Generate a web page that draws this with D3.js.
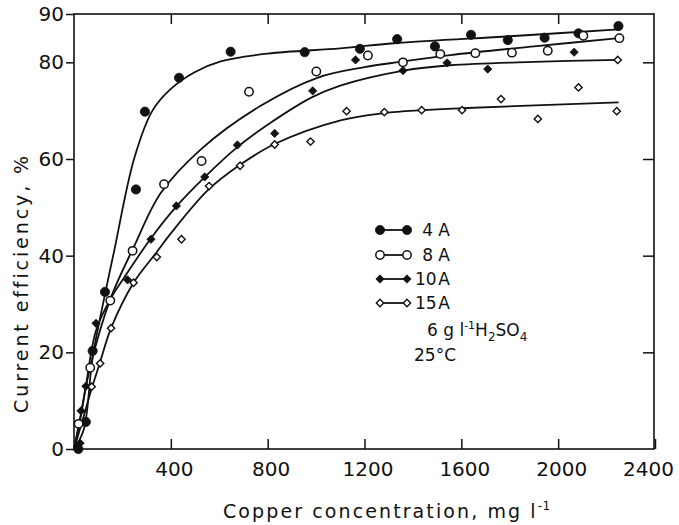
<!DOCTYPE html>
<html><head><meta charset="utf-8">
<script src="https://cdn.jsdelivr.net/npm/d3@7"></script>
<style>
body{margin:0;background:#fff}
svg{display:block}
text{font-family:"DejaVu Sans",sans-serif;fill:#111}
</style>
</head><body>
<svg id="c" width="679" height="525"></svg>
<script>
// ---- data ----
const xTickValues = [400, 800, 1200, 1600, 2000, 2400];
const yTickValues = [0, 20, 40, 60, 80, 90];
const seriesNames = ["4 A", "8 A", "10 A", "15 A"];

// measured points [copper concentration mg/l, current efficiency %]
const points4A = [[18,0],[49,5.6],[77,20.3],[128,32.5],[256,53.7],[293,69.8],[434,76.8],[647,82.2],[953,82.1],[1181,82.8],[1335,84.8],[1491,83.3],[1640,85.7],[1792,84.6],[1944,85.1],[2084,86.0],[2249,87.5]];
const points8A = [[19,5.2],[67,16.8],[150,30.7],[242,41.0],[372,54.8],[527,59.6],[723,73.9],[1001,78.1],[1214,81.4],[1359,80.0],[1513,81.7],[1658,81.9],[1809,82.0],[1957,82.4],[2104,85.5],[2253,85.0]];
const points10A = [[25,1.2],[29,7.9],[49,13.0],[91,26.0],[221,35.0],[318,43.4],[423,50.3],[540,56.3],[675,62.9],[829,65.3],[986,74.1],[1163,80.5],[1359,78.3],[1541,79.9],[1709,78.6],[2066,82.1]];
const points15A = [[73,12.9],[108,17.7],[153,25.0],[246,34.4],[342,39.7],[444,43.4],[558,54.4],[686,58.6],[829,63.0],[977,63.6],[1126,69.9],[1282,69.7],[1436,70.1],[1603,70.1],[1764,72.4],[1916,68.3],[2084,74.8],[2242,69.9],[2246,80.5]];

// fitted curves as drawn in the figure
const curve4A = [[0,0],[40,4],[77,19],[128,32],[166,41],[248,60],[324,70],[400,74.5],[500,78],[606,80.2],[800,81.8],[1100,82.9],[1335,84.0],[1800,85.4],[2250,86.8]];
const curve8A = [[0,0],[20,5],[67,17],[150,31],[249,42],[359,53],[524,62],[771,71],[1005,76.8],[1200,79],[1348,80.1],[1555,81.5],[1900,83.3],[2250,85.0]];
const curve10A = [[0,0],[29,7],[49,13],[91,24.5],[150,31],[221,36.5],[315,43.4],[425,50.3],[541,56.3],[671,62.3],[812,67.5],[984,72.8],[1100,75.2],[1362,78.3],[1555,79.4],[1900,80.1],[2250,80.5]];
const curve15A = [[0,0],[30,5],[73,12.5],[108,18],[153,25],[246,34.4],[338,40.5],[400,44.6],[554,53.6],[686,58.8],[833,63.2],[1101,68.0],[1282,69.5],[1436,70.1],[1596,70.5],[2250,71.7]];

// ---- chart ----
const svg = d3.select("#c");
const x = d3.scaleLinear().domain([0, 2400]).range([74, 655]);
const y = d3.scaleLinear().domain([0, 90]).range([449, 14]);

const seriesDefs = [
  {name: seriesNames[0], pts: points4A, curve: curve4A, shape: "circle", fill: true},
  {name: seriesNames[1], pts: points8A, curve: curve8A, shape: "circle", fill: false},
  {name: seriesNames[2], pts: points10A, curve: curve10A, shape: "diamond", fill: true},
  {name: seriesNames[3], pts: points15A, curve: curve15A, shape: "diamond", fill: false}
];

// frame
svg.append("rect").attr("x", x(0)).attr("y", y(90))
  .attr("width", x(2400) - x(0) - 1).attr("height", y(0) - y(90))
  .attr("fill", "none").attr("stroke", "#111").attr("stroke-width", 1.6);

function styleAxis(g){
  g.select(".domain").remove();
  g.selectAll("line").attr("stroke", "#111").attr("stroke-width", 1.5);
  g.selectAll("text").attr("font-size", 20).attr("fill", "#111")
    .attr("font-family", '"DejaVu Sans", sans-serif');
}

svg.append("g").attr("transform", `translate(0,${y(0)})`)
  .call(d3.axisBottom(x).tickValues(xTickValues).tickSizeInner(-10).tickSizeOuter(0).tickPadding(13).tickFormat(d3.format("d")))
  .call(styleAxis)
  .call(g => g.selectAll(".tick text").attr("dx", d => d === 2400 ? -7 : 3));

svg.append("g").attr("transform", `translate(0,${y(90)})`)
  .call(d3.axisTop(x).tickValues(xTickValues.slice(0, -1)).tickSizeInner(-10).tickSizeOuter(0).tickFormat(""))
  .call(styleAxis);

svg.append("g").attr("transform", `translate(${x(0)},0)`)
  .call(d3.axisLeft(y).tickValues(yTickValues).tickSizeInner(8).tickSizeOuter(0).tickPadding(2).tickFormat(d3.format("d")))
  .call(styleAxis);

svg.append("g").attr("transform", `translate(${x(2400) - 1},0)`)
  .call(d3.axisRight(y).tickValues(yTickValues.slice(1, -1)).tickSizeInner(-11).tickSizeOuter(0).tickFormat(""))
  .call(styleAxis);

// curves
const line = d3.line().x(d => x(d[0])).y(d => y(d[1])).curve(d3.curveCatmullRom.alpha(0.5));
seriesDefs.forEach(s => {
  svg.append("path").datum(s.curve).attr("d", line)
    .attr("fill", "none").attr("stroke", "#111").attr("stroke-width", 1.8);
});

// markers
const diamond = d3.symbol().type(d3.symbolDiamond2);
function drawMarker(g, cx, cy, s){
  if (s.shape === "circle") {
    g.append("circle").attr("cx", cx).attr("cy", cy)
      .attr("r", s.fill ? 4.6 : 4.2)
      .attr("fill", s.fill ? "#111" : "#fff")
      .attr("stroke", "#111").attr("stroke-width", s.fill ? 0.8 : 1.5);
  } else {
    const size = s.fill ? 44 : 34;
    g.append("path").attr("d", diamond.size(size)())
      .attr("transform", `translate(${cx},${cy})`)
      .attr("fill", s.fill ? "#111" : "#fff")
      .attr("stroke", "#111").attr("stroke-width", s.fill ? 0.8 : 1.4);
  }
}
const mg = svg.append("g");
seriesDefs.forEach(s => {
  s.pts.forEach(p => drawMarker(mg, x(p[0]), y(p[1]), s));
});

// legend
const legendRowsY = [230, 255, 279, 303];
const lg = svg.append("g");
seriesDefs.forEach((s, i) => {
  const ly = legendRowsY[i];
  lg.append("line").attr("x1", 380).attr("x2", 407).attr("y1", ly).attr("y2", ly)
    .attr("stroke", "#111").attr("stroke-width", 1.8);
  drawMarker(lg, 380, ly, s);
  drawMarker(lg, 407, ly, s);
  lg.append("text").attr("x", 450).attr("y", ly + 6).attr("text-anchor", "end")
    .attr("font-size", 17).text(s.name.length > 3 ? s.name.replace(" ", "\u200A") : s.name);
});
const t1 = lg.append("text").attr("x", 427).attr("y", 336).attr("font-size", 17);
t1.append("tspan").text("6 g l");
t1.append("tspan").attr("dy", -7).attr("font-size", 11).text("-1");
t1.append("tspan").attr("dy", 7).text("H");
t1.append("tspan").attr("dy", 5).attr("font-size", 12).text("2");
t1.append("tspan").attr("dy", -5).text("SO");
t1.append("tspan").attr("dy", 5).attr("font-size", 12).text("4");
lg.append("text").attr("x", 414).attr("y", 361).attr("font-size", 17).text("25\u00B0C");

// axis titles
const xt = svg.append("text").attr("x", 223).attr("y", 518).attr("font-size", 19)
  .attr("letter-spacing", 2.1);
xt.append("tspan").text("Copper concentration, mg l");
xt.append("tspan").attr("dy", -8).attr("font-size", 12).attr("letter-spacing", 0.5).text("-1");

svg.append("text").attr("transform", "translate(28,283) rotate(-90)")
  .attr("text-anchor", "middle").attr("font-size", 19).attr("letter-spacing", 2.9)
  .text("Current efficiency, %");
</script>
</body></html>
